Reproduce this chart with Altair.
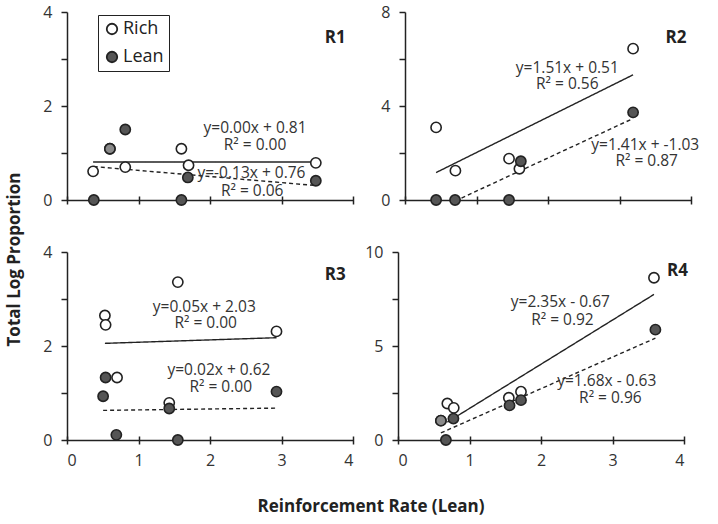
import altair as alt
import pandas as pd

FONT = "Open Sans"
INK = "#222222"
TXT = "#333333"
LEAN_FILL = "#555555"
LIGHT_FILL = "#8a8a8a"

# ---------------- values ----------------
# R1
r1_rich_x = [0.365, 0.815, 1.60, 1.70, 3.48]
r1_rich_y = [0.61, 0.70, 1.09, 0.74, 0.79]
r1_lean_x = [0.375, 0.60, 0.815, 1.60, 1.69, 3.48]
r1_lean_y = [0.0, 1.09, 1.50, 0.0, 0.48, 0.41]
r1_lean_light = [0, 1, 0, 0, 0, 0]
r1_fit_rich = [0.00, 0.81]
r1_fit_lean = [-0.13, 0.76]
r1_eq_text = ["y=0.00x + 0.81", "R\u00b2 = 0.00", "y=-0.13x + 0.76", "R\u00b2 = 0.06"]

# R2
r2_rich_x = [0.435, 0.705, 1.455, 1.60, 3.19]
r2_rich_y = [3.09, 1.25, 1.76, 1.33, 6.44]
r2_lean_x = [0.435, 0.70, 1.455, 1.62, 3.19]
r2_lean_y = [0.0, 0.0, 0.0, 1.65, 3.73]
r2_lean_light = [0, 0, 0, 0, 0]
r2_fit_rich = [1.51, 0.51]
r2_fit_lean = [1.41, -1.03]
r2_eq_text = ["y=1.51x + 0.51", "R\u00b2 = 0.56", "y=1.41x + -1.03", "R\u00b2 = 0.87"]

# R3
r3_rich_x = [0.53, 0.54, 0.70, 1.55, 1.43, 2.93]
r3_rich_y = [2.65, 2.45, 1.33, 3.36, 0.79, 2.31]
r3_lean_x = [0.54, 0.505, 0.69, 1.43, 1.55, 2.93]
r3_lean_y = [1.33, 0.93, 0.11, 0.67, 0.0, 1.03]
r3_lean_light = [0, 0, 0, 0, 0, 0]
r3_fit_rich = [0.05, 2.03]
r3_fit_lean = [0.02, 0.62]
r3_eq_text = ["y=0.05x + 2.03", "R\u00b2 = 0.00", "y=0.02x + 0.62", "R\u00b2 = 0.00"]

# R4
r4_rich_x = [0.69, 0.78, 1.55, 1.72, 3.58]
r4_rich_y = [1.94, 1.71, 2.25, 2.57, 8.63]
r4_lean_x = [0.60, 0.775, 0.67, 1.56, 1.72, 3.60]
r4_lean_y = [1.03, 1.14, 0.0, 1.84, 2.12, 5.87]
r4_lean_light = [1, 0, 0, 0, 0, 0]
r4_fit_rich = [2.35, -0.67]
r4_fit_lean = [1.68, -0.63]
r4_eq_text = ["y=2.35x - 0.67", "R\u00b2 = 0.92", "y=1.68x - 0.63", "R\u00b2 = 0.96"]

x_ticks = [0, 1, 2, 3, 4]
series_names = ["Rich", "Lean"]

# ---------------- annotation placement (data coords) ----------------
r1_eq_pos = [(2.63, 1.53), (2.63, 1.18), (2.58, 0.57), (2.59, 0.20)]
r2_eq_pos = [(2.27, 5.62), (2.27, 4.94), (3.36, 2.35), (3.38, 1.65)]
r3_eq_pos = [(1.92, 2.84), (1.94, 2.48), (2.125, 1.48), (2.15, 1.13)]
r4_eq_pos = [(2.27, 7.33), (2.30, 6.38), (2.92, 3.14), (2.97, 2.21)]
tag_pos = {"R1": (3.75, 3.45), "R2": (3.79, 6.89), "R3": (3.75, 3.52), "R4": (3.91, 9.0)}

W, H = 286, 188


def panel(name, rx, ry, lx, ly, light, fit_r, fit_l, eq_text, eq_pos,
          ymax, yticks, ylabel_step, show_xlabels, with_legend=False):
    pts = pd.DataFrame({
        "x": rx + lx,
        "y": ry + ly,
        "series": ["Rich"] * len(rx) + ["Lean"] * len(lx),
        "light": [0] * len(rx) + light,
    })
    rows = []
    for s, xs_, fit in (("Rich", rx, fit_r), ("Lean", lx, fit_l)):
        for xv in (min(xs_), max(xs_)):
            rows.append({"fit": s, "x": xv, "y": fit[0] * xv + fit[1]})
    lines = pd.DataFrame(rows)
    eq = pd.DataFrame({"t": eq_text, "x": [p[0] for p in eq_pos], "y": [p[1] for p in eq_pos]})
    tag = pd.DataFrame({"t": [name], "x": [tag_pos[name][0]], "y": [tag_pos[name][1]]})

    xs = alt.Scale(domain=[0, 4], nice=False, zero=False)
    ys = alt.Scale(domain=[0, ymax], nice=False)
    yaxis = alt.Axis(values=yticks, title=None, grid=False,
                     labelExpr=f"datum.value % {ylabel_step} == 0 ? datum.label : ''",
                     tickSize=6, labelPadding=9)
    x_main = alt.Axis(values=x_ticks, title=None, grid=False, ticks=False,
                      labels=show_xlabels, labelPadding=12, orient="bottom")
    x_tick = alt.Axis(values=x_ticks, title=None, grid=False, ticks=True, tickSize=8,
                      offset=-4, domain=False, labels=False, orient="bottom")

    Y = alt.Y("y:Q", scale=ys, axis=yaxis)
    line_layer = alt.Chart(lines).mark_line(clip=True, strokeWidth=1.4, color=INK).encode(
        x=alt.X("x:Q", scale=xs, axis=x_tick),
        y=Y,
        detail="fit:N",
        strokeDash=alt.StrokeDash("fit:N", scale=alt.Scale(domain=series_names, range=[[1, 0], [4, 3]]), legend=None),
    )
    leg = alt.Legend(title=None, orient="none", legendX=31, legendY=3,
                     symbolType="circle", symbolSize=110, symbolStrokeColor=INK,
                     symbolStrokeWidth=1.8, labelFontSize=18, labelFont=FONT, labelColor=INK,
                     padding=5, strokeColor=INK, rowPadding=10, labelOffset=2)
    pt_layer = alt.Chart(pts).mark_point(filled=True, size=105, stroke=INK, strokeWidth=1.6, opacity=1).encode(
        x=alt.X("x:Q", scale=xs, axis=x_main),
        y=Y,
        fill=alt.Fill("series:N", scale=alt.Scale(domain=series_names, range=["white", LEAN_FILL]),
                      legend=leg if with_legend else None),
    )
    light_layer = alt.Chart(pts).transform_filter("datum.light == 1").mark_point(
        filled=True, size=105, stroke=INK, strokeWidth=1.6, opacity=1, fill=LIGHT_FILL).encode(
        x=alt.X("x:Q", scale=xs, axis=None),
        y=Y,
    )
    eq_layer = alt.Chart(eq).mark_text(font=FONT, fontSize=15.5, color=TXT, align="center", baseline="middle").encode(
        x=alt.X("x:Q", scale=xs, axis=None),
        y=Y, text="t:N",
    )
    tag_layer = alt.Chart(tag).mark_text(font=FONT, fontSize=17, fontWeight="bold", color=INK, align="center", baseline="middle").encode(
        x=alt.X("x:Q", scale=xs, axis=None),
        y=Y, text="t:N",
    )
    return alt.layer(line_layer, pt_layer, light_layer, eq_layer, tag_layer).resolve_axis(x="independent").properties(width=W, height=H)


p1 = panel("R1", r1_rich_x, r1_rich_y, r1_lean_x, r1_lean_y, r1_lean_light, r1_fit_rich, r1_fit_lean,
           r1_eq_text, r1_eq_pos, 4, [0, 1, 2, 3, 4], 2, False, with_legend=True).resolve_scale(fill="independent")
p2 = panel("R2", r2_rich_x, r2_rich_y, r2_lean_x, r2_lean_y, r2_lean_light, r2_fit_rich, r2_fit_lean,
           r2_eq_text, r2_eq_pos, 8, [0, 2, 4, 6, 8], 4, False)
p3 = panel("R3", r3_rich_x, r3_rich_y, r3_lean_x, r3_lean_y, r3_lean_light, r3_fit_rich, r3_fit_lean,
           r3_eq_text, r3_eq_pos, 4, [0, 1, 2, 3, 4], 2, True)
p4 = panel("R4", r4_rich_x, r4_rich_y, r4_lean_x, r4_lean_y, r4_lean_light, r4_fit_rich, r4_fit_lean,
           r4_eq_text, r4_eq_pos, 10, [0, 2.5, 5, 7.5, 10], 5, True)

row1 = alt.hconcat(p1, p2, spacing=26).resolve_scale(fill="independent").resolve_legend(fill="independent")
row2 = alt.hconcat(p3, p4, spacing=10)
grid = alt.vconcat(row1, row2, spacing=35).resolve_scale(fill="independent").resolve_legend(fill="independent").properties(
    title=alt.TitleParams("Reinforcement Rate (Lean)", orient="bottom", anchor="middle",
                          font=FONT, fontSize=17, fontWeight="bold", color=INK, offset=31)
)
chart = alt.hconcat(grid).properties(
    title=alt.TitleParams("Total Log Proportion", orient="left", anchor="middle",
                          font=FONT, fontSize=17, fontWeight="bold", color=INK, offset=19),
    padding={"left": 5, "top": 4, "right": 0, "bottom": 0},
).configure_view(stroke=None).configure_axis(
    domainColor=INK, tickColor=INK, domainWidth=1.5, tickWidth=1.5,
    labelFont=FONT, labelFontSize=16, labelColor=TXT,
)

chart.save("out.html", embed_options={"renderer": "svg", "actions": False})
